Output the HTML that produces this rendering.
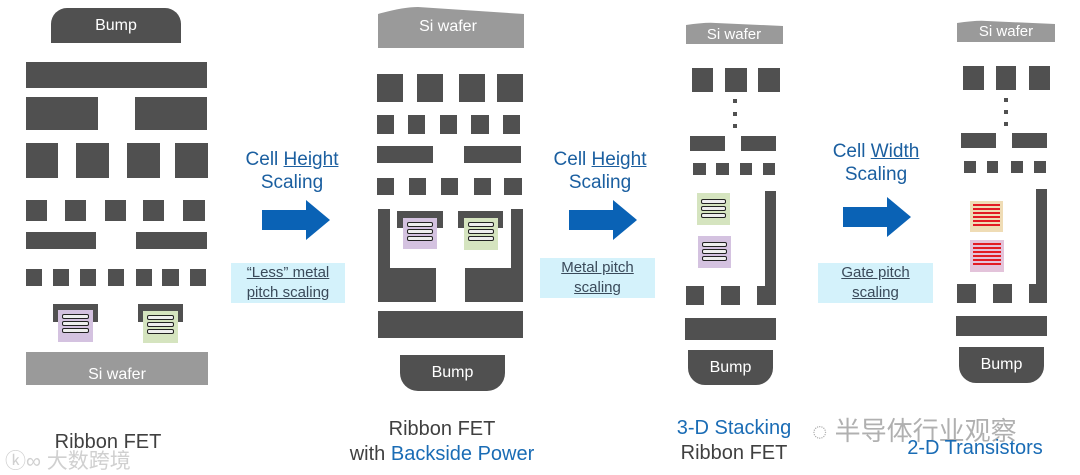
<!DOCTYPE html>
<html><head><meta charset="utf-8"><style>
body{margin:0;width:1080px;height:475px;background:#fff;position:relative;overflow:hidden;font-family:"Liberation Sans","Noto Sans CJK SC",sans-serif}
.d{position:absolute;background:#505050}
.w{position:absolute;background:#9a9a9a;color:#fff;text-align:center;font-size:16px}
.t{position:absolute;text-align:center;white-space:nowrap}
.lbl{color:#1b5fa0;font-size:19px;line-height:23px}
.box{position:absolute;background:#d4f2fb;color:#3a4a5a;font-size:15px;line-height:20px;text-align:center;text-decoration:underline}
.arr{position:absolute}
.chip{position:absolute;padding-top:4px;box-sizing:border-box}
.chip i{display:block;height:3px;border:1.5px solid #222;border-radius:2px;margin:0 4px 2px 4px;background:#eee}
.cap{position:absolute;background:#505050}
.bump{position:absolute;background:#505050;color:#fff;text-align:center;font-size:16px}
.cap2{position:absolute;font-size:20px;color:#404040;text-align:center;white-space:nowrap;line-height:25px}
.blue{color:#1a6cb5}
.red{position:absolute;padding:3px 3px}
.red i{display:block;height:2px;background:#e21b23;margin-bottom:2px}
</style></head><body>

<!-- Panel 1 -->
<div class="bump" style="left:51px;top:8px;width:130px;height:35px;border-radius:16px 16px 0 0;line-height:35px">Bump</div>
<div class="d" style="left:26px;top:62px;width:181px;height:26px"></div>
<div class="d" style="left:26px;top:97px;width:72px;height:33px"></div>
<div class="d" style="left:135px;top:97px;width:72px;height:33px"></div>
<div class="d" style="left:26px;top:143px;width:32px;height:35px"></div>
<div class="d" style="left:76px;top:143px;width:33px;height:35px"></div>
<div class="d" style="left:127px;top:143px;width:33px;height:35px"></div>
<div class="d" style="left:175px;top:143px;width:33px;height:35px"></div>
<div class="d" style="left:26px;top:200px;width:21px;height:21px"></div>
<div class="d" style="left:65px;top:200px;width:21px;height:21px"></div>
<div class="d" style="left:105px;top:200px;width:21px;height:21px"></div>
<div class="d" style="left:143px;top:200px;width:21px;height:21px"></div>
<div class="d" style="left:183px;top:200px;width:22px;height:21px"></div>
<div class="d" style="left:26px;top:232px;width:70px;height:17px"></div>
<div class="d" style="left:136px;top:232px;width:71px;height:17px"></div>
<div class="d" style="left:26px;top:269px;width:16px;height:17px"></div>
<div class="d" style="left:53px;top:269px;width:16px;height:17px"></div>
<div class="d" style="left:80px;top:269px;width:16px;height:17px"></div>
<div class="d" style="left:108px;top:269px;width:16px;height:17px"></div>
<div class="d" style="left:136px;top:269px;width:16px;height:17px"></div>
<div class="d" style="left:162px;top:269px;width:17px;height:17px"></div>
<div class="d" style="left:190px;top:269px;width:16px;height:17px"></div>
<div class="cap" style="left:53px;top:304px;width:45px;height:18px"></div>
<div class="chip" style="left:58px;top:310px;width:35px;height:32px;background:#d4c2e0"><i></i><i></i><i></i></div>
<div class="cap" style="left:138px;top:304px;width:45px;height:18px"></div>
<div class="chip" style="left:143px;top:311px;width:35px;height:32px;background:#d5e4bf"><i></i><i></i><i></i></div>
<div class="w" style="left:26px;top:352px;width:182px;height:33px;line-height:46px">Si wafer</div>
<div class="cap2" style="left:8px;top:430px;width:200px">Ribbon FET</div>
<div class="t" style="left:5px;top:445px;font-size:21px;color:#d0d0d0">ⓚ∞ 大数跨境</div>

<!-- Arrow 1 -->
<div class="t lbl" style="left:232px;top:148px;width:120px"><span>Cell <u>Height</u></span><br>Scaling</div>
<svg class="arr" style="left:262px;top:200px" width="70" height="41"><polygon points="0,10 44,10 44,0 68,20 44,40 44,30 0,30" fill="#0a62b5"/></svg>
<div class="box" style="left:231px;top:263px;width:114px;height:40px">“Less” metal<br>pitch scaling</div>

<!-- Panel 2 -->
<svg style="position:absolute;left:378px;top:7px" width="146" height="42"><path d="M0,7 Q25,0 40,0 L146,7 L146,41 L0,41 Z" fill="#9a9a9a"/><text x="70" y="24" fill="#fff" font-size="16" text-anchor="middle" font-family="Liberation Sans,sans-serif">Si wafer</text></svg>
<div class="d" style="left:377px;top:74px;width:26px;height:28px"></div>
<div class="d" style="left:417px;top:74px;width:26px;height:28px"></div>
<div class="d" style="left:459px;top:74px;width:26px;height:28px"></div>
<div class="d" style="left:497px;top:74px;width:26px;height:28px"></div>
<div class="d" style="left:377px;top:115px;width:17px;height:19px"></div>
<div class="d" style="left:408px;top:115px;width:17px;height:19px"></div>
<div class="d" style="left:440px;top:115px;width:17px;height:19px"></div>
<div class="d" style="left:471px;top:115px;width:18px;height:19px"></div>
<div class="d" style="left:503px;top:115px;width:17px;height:19px"></div>
<div class="d" style="left:377px;top:146px;width:56px;height:17px"></div>
<div class="d" style="left:464px;top:146px;width:57px;height:17px"></div>
<div class="d" style="left:377px;top:178px;width:17px;height:17px"></div>
<div class="d" style="left:409px;top:178px;width:17px;height:17px"></div>
<div class="d" style="left:441px;top:178px;width:17px;height:17px"></div>
<div class="d" style="left:474px;top:178px;width:17px;height:17px"></div>
<div class="d" style="left:504px;top:178px;width:18px;height:17px"></div>
<div class="d" style="left:378px;top:209px;width:12px;height:93px"></div>
<div class="d" style="left:378px;top:268px;width:58px;height:34px"></div>
<div class="d" style="left:511px;top:209px;width:12px;height:93px"></div>
<div class="d" style="left:465px;top:268px;width:58px;height:34px"></div>
<div class="cap" style="left:397px;top:211px;width:46px;height:17px"></div>
<div class="chip" style="left:403px;top:218px;width:34px;height:31px;background:#d4c2e0"><i></i><i></i><i></i></div>
<div class="cap" style="left:458px;top:211px;width:45px;height:17px"></div>
<div class="chip" style="left:464px;top:218px;width:34px;height:32px;background:#d5e4bf"><i></i><i></i><i></i></div>
<div class="d" style="left:378px;top:311px;width:145px;height:27px"></div>
<div class="bump" style="left:400px;top:355px;width:105px;height:36px;border-radius:0 0 18px 18px;line-height:36px">Bump</div>
<div class="cap2" style="left:342px;top:417px;width:200px">Ribbon FET<br>with <span class="blue">Backside Power</span></div>

<!-- Arrow 2 -->
<div class="t lbl" style="left:540px;top:148px;width:120px"><span>Cell <u>Height</u></span><br>Scaling</div>
<svg class="arr" style="left:569px;top:200px" width="70" height="41"><polygon points="0,10 44,10 44,0 68,20 44,40 44,30 0,30" fill="#0a62b5"/></svg>
<div class="box" style="left:540px;top:258px;width:115px;height:40px">Metal pitch<br>scaling</div>

<!-- Panel 3 -->
<svg style="position:absolute;left:686px;top:22px" width="97" height="22"><path d="M0,3 Q20,0 30,1 L97,4 L97,22 L0,22 Z" fill="#9a9a9a"/><text x="48" y="17" fill="#fff" font-size="15" text-anchor="middle" font-family="Liberation Sans,sans-serif">Si wafer</text></svg>
<div class="d" style="left:692px;top:68px;width:21px;height:24px"></div>
<div class="d" style="left:725px;top:68px;width:22px;height:24px"></div>
<div class="d" style="left:758px;top:68px;width:22px;height:24px"></div>
<div class="d" style="left:733px;top:99px;width:4px;height:4px"></div>
<div class="d" style="left:733px;top:112px;width:4px;height:4px"></div>
<div class="d" style="left:733px;top:124px;width:4px;height:4px"></div>
<div class="d" style="left:690px;top:136px;width:35px;height:15px"></div>
<div class="d" style="left:741px;top:136px;width:35px;height:15px"></div>
<div class="d" style="left:693px;top:163px;width:13px;height:12px"></div>
<div class="d" style="left:716px;top:163px;width:13px;height:12px"></div>
<div class="d" style="left:740px;top:163px;width:12px;height:12px"></div>
<div class="d" style="left:763px;top:163px;width:12px;height:12px"></div>
<div class="d" style="left:765px;top:191px;width:11px;height:114px"></div>
<div class="chip" style="left:697px;top:193px;width:33px;height:32px;background:#d5e4bf;padding-top:6px"><i></i><i></i><i></i></div>
<div class="chip" style="left:698px;top:236px;width:33px;height:32px;background:#d4c2e0;padding-top:6px"><i></i><i></i><i></i></div>
<div class="d" style="left:686px;top:286px;width:18px;height:19px"></div>
<div class="d" style="left:721px;top:286px;width:19px;height:19px"></div>
<div class="d" style="left:757px;top:286px;width:19px;height:19px"></div>
<div class="d" style="left:685px;top:318px;width:91px;height:22px"></div>
<div class="bump" style="left:688px;top:350px;width:85px;height:35px;border-radius:0 0 17px 17px;line-height:35px">Bump</div>
<div class="cap2" style="left:634px;top:416px;width:200px"><span class="blue">3-D Stacking</span><br>Ribbon FET</div>

<!-- Arrow 3 -->
<div class="t lbl" style="left:816px;top:140px;width:120px"><span>Cell <u>Width</u></span><br>Scaling</div>
<svg class="arr" style="left:843px;top:197px" width="70" height="41"><polygon points="0,10 44,10 44,0 68,20 44,40 44,30 0,30" fill="#0a62b5"/></svg>
<div class="box" style="left:818px;top:263px;width:115px;height:40px">Gate pitch<br>scaling</div>

<!-- Panel 4 -->
<svg style="position:absolute;left:957px;top:20px" width="98" height="22"><path d="M0,3 Q20,0 30,1 L98,4 L98,22 L0,22 Z" fill="#9a9a9a"/><text x="49" y="16" fill="#fff" font-size="15" text-anchor="middle" font-family="Liberation Sans,sans-serif">Si wafer</text></svg>
<div class="d" style="left:963px;top:66px;width:21px;height:24px"></div>
<div class="d" style="left:996px;top:66px;width:20px;height:24px"></div>
<div class="d" style="left:1029px;top:66px;width:21px;height:24px"></div>
<div class="d" style="left:1004px;top:98px;width:4px;height:4px"></div>
<div class="d" style="left:1004px;top:110px;width:4px;height:4px"></div>
<div class="d" style="left:1004px;top:122px;width:4px;height:4px"></div>
<div class="d" style="left:961px;top:133px;width:35px;height:15px"></div>
<div class="d" style="left:1012px;top:133px;width:35px;height:15px"></div>
<div class="d" style="left:964px;top:161px;width:12px;height:12px"></div>
<div class="d" style="left:987px;top:161px;width:11px;height:12px"></div>
<div class="d" style="left:1011px;top:161px;width:12px;height:12px"></div>
<div class="d" style="left:1034px;top:161px;width:12px;height:12px"></div>
<div class="d" style="left:1036px;top:189px;width:11px;height:114px"></div>
<div class="red" style="left:970px;top:201px;width:27px;height:25px;background:#efdcb5"><i></i><i></i><i></i><i></i><i></i><i></i></div>
<div class="red" style="left:970px;top:240px;width:28px;height:26px;background:#e3c3da"><i></i><i></i><i></i><i></i><i></i><i></i></div>
<div class="d" style="left:957px;top:284px;width:19px;height:19px"></div>
<div class="d" style="left:993px;top:284px;width:19px;height:19px"></div>
<div class="d" style="left:1029px;top:284px;width:18px;height:19px"></div>
<div class="d" style="left:956px;top:316px;width:91px;height:20px"></div>
<div class="bump" style="left:959px;top:347px;width:85px;height:36px;border-radius:0 0 17px 17px;line-height:36px">Bump</div>
<div class="t" style="left:812px;top:411px;font-size:26px;color:#b0b0b0">◌ 半导体行业观察</div>
<div class="cap2" style="left:875px;top:436px;width:200px"><span class="blue">2-D Transistors</span></div>
</body></html>
